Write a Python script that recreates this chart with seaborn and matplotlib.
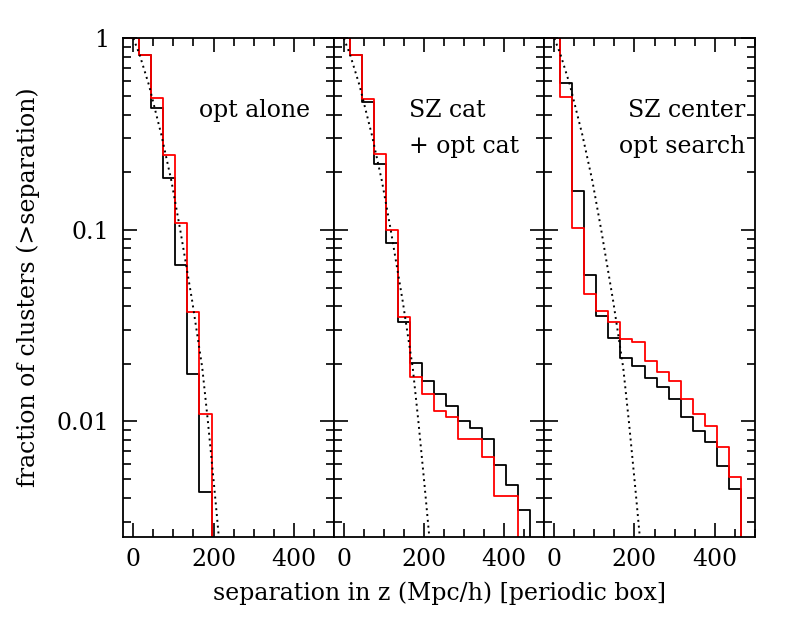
import seaborn as sns
import matplotlib.pyplot as plt
from matplotlib.ticker import FixedLocator, LogLocator, NullFormatter, MultipleLocator, FixedFormatter

sns.set_theme(style='ticks')
plt.rcParams['font.family'] = ['DejaVu Serif']
plt.rcParams['font.size'] = 17
plt.rcParams['text.color'] = 'black'
plt.rcParams['axes.labelcolor'] = 'black'
plt.rcParams['xtick.color'] = 'black'
plt.rcParams['ytick.color'] = 'black'

# bin edges of the separation histograms (Mpc/h)
edges = [-15, 15, 45, 75, 105, 135, 165, 195, 225, 255, 285,
         315, 345, 375, 405, 435, 465]

# fraction of clusters with separation larger than each bin
opt_black = [1, 0.818, 0.431, 0.186, 0.0657, 0.0177, 0.00428]
opt_red = [1, 0.818, 0.486, 0.246, 0.108, 0.0373, 0.0109]

szcat_black = [1, 0.818, 0.467, 0.220, 0.0859, 0.0332, 0.0203, 0.0162,
               0.0139, 0.0120, 0.0100, 0.00924, 0.00812, 0.00594,
               0.00464, 0.00346]
szcat_red = [1, 0.818, 0.481, 0.248, 0.100, 0.0351, 0.0170, 0.0139,
             0.0114, 0.01054, 0.00812, 0.00812, 0.00650, 0.00409, 0.00409]

szcen_black = [1, 0.587, 0.160, 0.0578, 0.0356, 0.0272, 0.0214, 0.0194,
               0.0168, 0.0151, 0.0131, 0.0106, 0.00887, 0.00777,
               0.00587, 0.00444]
szcen_red = [1, 0.496, 0.102, 0.0462, 0.0379, 0.0330, 0.0269, 0.0261,
             0.0206, 0.0182, 0.0162, 0.0131, 0.01097, 0.0095,
             0.00735, 0.00513]

# dotted reference curve
curve_x = [0, 15, 39, 70, 95, 117, 147, 172, 186, 202, 214]
curve_y = [1, 0.83, 0.57, 0.313, 0.18, 0.1, 0.0423, 0.019, 0.01, 0.0045, 0.0024]

panel_labels = [["opt alone"], ["SZ cat", "+ opt cat"], ["SZ center", "opt search"]]
panel_data = [(opt_black, opt_red), (szcat_black, szcat_red), (szcen_black, szcen_red)]


def steps(vals):
    # cumulative fraction falls to zero after the last bin
    return edges[:len(vals) + 1], list(vals) + [0]


fig, axes = plt.subplots(1, 3, figsize=(7.97, 6.22), dpi=100, sharey=True)
fig.subplots_adjust(left=0.1547, right=0.947, top=0.9384, bottom=0.1371, wspace=0)

for i, ax in enumerate(axes):
    black, red = panel_data[i]
    xb, yb = steps(black)
    xr, yr = steps(red)
    sns.lineplot(x=xb, y=yb, ax=ax, color='black', lw=1.3, drawstyle='steps-post',
                 estimator=None, sort=False)
    sns.lineplot(x=xr, y=yr, ax=ax, color='red', lw=1.3, drawstyle='steps-post',
                 estimator=None, sort=False)
    sns.lineplot(x=curve_x, y=curve_y, ax=ax, color='black', lw=1.4, linestyle=(0, (1, 2)),
                 estimator=None, sort=False)

    ax.set_yscale('log')
    ax.set_ylim(0.0025, 1)
    ax.set_xlim(-25, 500)
    ax.xaxis.set_major_locator(FixedLocator([0, 200, 400]))
    ax.xaxis.set_minor_locator(MultipleLocator(50))
    ax.yaxis.set_major_locator(FixedLocator([0.01, 0.1, 1]))
    ax.yaxis.set_major_formatter(FixedFormatter(["0.01", "0.1", "1"]))
    ax.yaxis.set_minor_locator(LogLocator(base=10, subs=range(2, 10)))
    ax.yaxis.set_minor_formatter(NullFormatter())
    ax.tick_params(which='both', direction='in', top=True, right=True, width=1.2,
                   color='black', labelsize=17)
    ax.tick_params(which='major', length=10)
    ax.tick_params(which='minor', length=5.5)
    ax.tick_params(axis='x', pad=8)
    ax.tick_params(axis='y', pad=10)
    for s in ax.spines.values():
        s.set_linewidth(1.3)
        s.set_color('black')
    ax.set_xlabel('')
    ax.set_ylabel('')

axes[0].text(0.886, 0.856, panel_labels[0][0], transform=axes[0].transAxes,
             ha='right', va='center', fontsize=17)
axes[1].text(0.355, 0.856, panel_labels[1][0], transform=axes[1].transAxes,
             ha='left', va='center', fontsize=17)
axes[1].text(0.355, 0.782, panel_labels[1][1], transform=axes[1].transAxes,
             ha='left', va='center', fontsize=17)
axes[2].text(0.956, 0.856, panel_labels[2][0], transform=axes[2].transAxes,
             ha='right', va='center', fontsize=17)
axes[2].text(0.956, 0.782, panel_labels[2][1], transform=axes[2].transAxes,
             ha='right', va='center', fontsize=17)

axes[0].set_ylabel('fraction of clusters (>separation)', fontsize=17, labelpad=12)
fig.text(0.551, 0.046, 'separation in z (Mpc/h) [periodic box]', ha='center',
         va='center', fontsize=17)

plt.savefig("out.png", dpi=100)
